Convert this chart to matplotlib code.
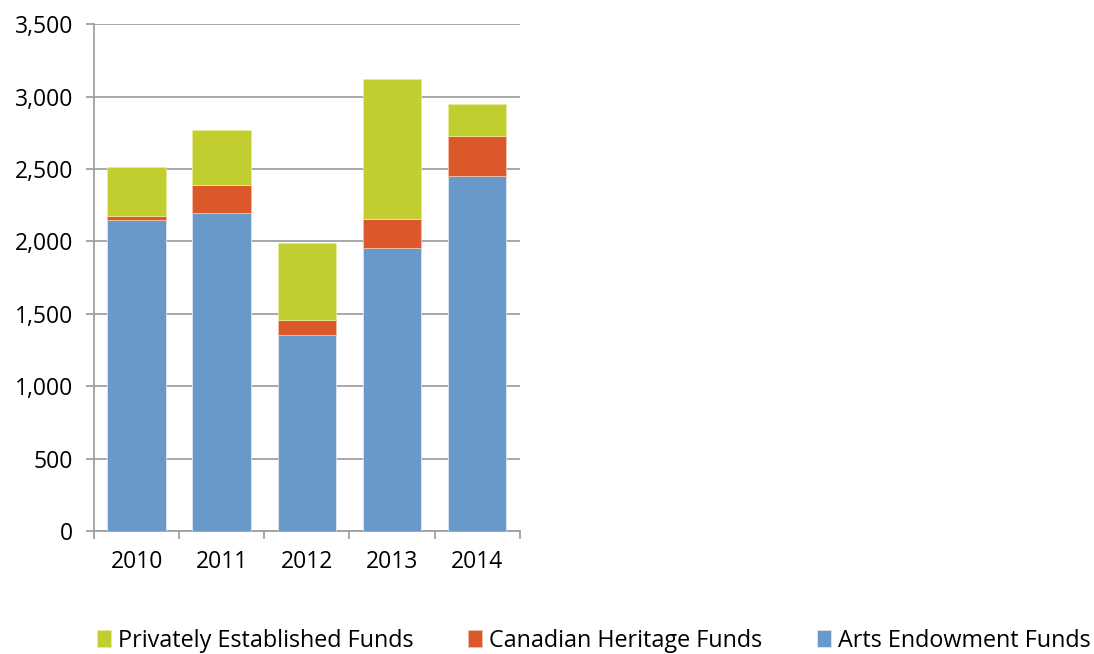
import matplotlib.pyplot as plt
import numpy as np
from matplotlib.ticker import FuncFormatter, MultipleLocator

years = ['2010', '2011', '2012', '2013', '2014']
arts = [2145, 2198, 1352, 1954, 2453]
heritage = [29, 193, 105, 198, 273]
private = [343, 381, 529, 970, 224]

plt.rcParams['font.family'] = ['Open Sans', 'DejaVu Sans']

fig = plt.figure(figsize=(10.94, 6.54), dpi=100)
ax = fig.add_axes([0.086, 0.188, 0.389, 0.775])

x = np.arange(len(years))
w = 0.69
b1 = ax.bar(x, arts, w, color='#6899C9', edgecolor='#dce6f2', linewidth=0.6,
            label='Arts Endowment Funds', zorder=3)
b2 = ax.bar(x, heritage, w, bottom=arts, color='#DC582A', edgecolor='#f0c0a8',
            linewidth=0.6, label='Canadian Heritage Funds', zorder=3)
bottom2 = np.array(arts) + np.array(heritage)
b3 = ax.bar(x, private, w, bottom=bottom2, color='#C2CD30', edgecolor='#e6ec9a',
            linewidth=0.6, label='Privately Established Funds', zorder=3)

ax.set_xlim(-0.5, len(years) - 0.5)
ax.set_ylim(0, 3500)
ax.yaxis.set_major_locator(MultipleLocator(500))
ax.yaxis.set_major_formatter(FuncFormatter(lambda v, p: f'{int(v):,}'))
ax.grid(axis='y', color='#a0a0a4', linewidth=1.3, zorder=0)

ax.set_xticks(x)
ax.set_xticklabels(years)
ax.set_xticks(np.arange(-0.5, len(years)), minor=True)
ax.tick_params(axis='x', which='major', length=0, pad=14, labelsize=16.5)
ax.tick_params(axis='x', which='minor', length=6, color='#a0a0a4', width=1.3)
ax.tick_params(axis='y', length=6, color='#a0a0a4', width=1.3, labelsize=16.5, pad=9)

for s in ['top', 'right']:
    ax.spines[s].set_visible(False)
for s in ['left', 'bottom']:
    ax.spines[s].set_color('#a0a0a4')
    ax.spines[s].set_linewidth(1.3)

fig.legend(handles=[b3, b2, b1], loc='center', bbox_to_anchor=(0.543, 0.02),
           ncol=3, frameon=False, fontsize=16.8, handlelength=0.6, handleheight=0.75,
           handletextpad=0.3, columnspacing=2.35, borderpad=0.1)

fig.savefig('out.png', dpi=100)
